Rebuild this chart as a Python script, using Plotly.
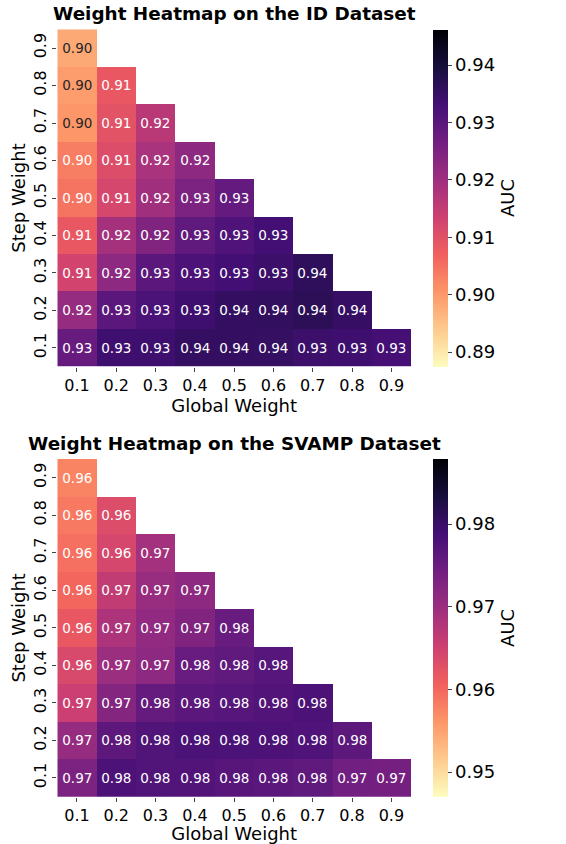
import plotly.graph_objects as go
import plotly.colors as pc

global_weights = ["0.1", "0.2", "0.3", "0.4", "0.5", "0.6", "0.7", "0.8", "0.9"]
step_weights = ["0.9", "0.8", "0.7", "0.6", "0.5", "0.4", "0.3", "0.2", "0.1"]  # top to bottom

N = None
id_auc = [
    [0.8981, N, N, N, N, N, N, N, N],
    [0.8998, 0.9086, N, N, N, N, N, N, N],
    [0.9006, 0.9098, 0.9163, N, N, N, N, N, N],
    [0.9034, 0.9110, 0.9186, 0.9227, N, N, N, N, N],
    [0.9048, 0.9122, 0.9198, 0.9252, 0.9286, N, N, N, N],
    [0.9086, 0.9192, 0.9245, 0.9292, 0.9315, 0.9333, N, N, N],
    [0.9127, 0.9227, 0.9298, 0.9320, 0.9333, 0.9345, 0.9362, N, N],
    [0.9215, 0.9298, 0.9321, 0.9339, 0.9356, 0.9358, 0.9366, 0.9352, N],
    [0.9282, 0.9339, 0.9340, 0.9356, 0.9356, 0.9355, 0.9345, 0.9340, 0.9330],
]
svamp_auc = [
    [0.9576, N, N, N, N, N, N, N, N],
    [0.9585, 0.9634, N, N, N, N, N, N, N],
    [0.9593, 0.9642, 0.9691, N, N, N, N, N, N],
    [0.9601, 0.9662, 0.9703, 0.9715, N, N, N, N, N],
    [0.9617, 0.9683, 0.9711, 0.9728, 0.9752, N, N, N, N],
    [0.9638, 0.9699, 0.9715, 0.9752, 0.9760, 0.9769, N, N, N],
    [0.9654, 0.9724, 0.9756, 0.9764, 0.9769, 0.9773, 0.9779, N, N],
    [0.9707, 0.9762, 0.9775, 0.9781, 0.9781, 0.9780, 0.9776, 0.9763, N],
    [0.9732, 0.9779, 0.9775, 0.9773, 0.9768, 0.9765, 0.9760, 0.9744, 0.9740],
]
id_range = [0.8875, 0.9462]
svamp_range = [0.9470, 0.9879]
id_ticks = [0.89, 0.90, 0.91, 0.92, 0.93, 0.94]
svamp_ticks = [0.95, 0.96, 0.97, 0.98]
titles = ["Weight Heatmap on the ID Dataset", "Weight Heatmap on the SVAMP Dataset"]

W, H = 566, 844
FONT = "DejaVu Sans"
scale = pc.sequential.Magma_r


def px_x(p):
    return p / W


def px_y(p):
    return 1 - p / H


def lin(c):
    return c / 12.92 if c <= 0.03928 else ((c + 0.055) / 1.055) ** 2.4


def luminance(val, rng):
    t = (val - rng[0]) / (rng[1] - rng[0])
    col = pc.sample_colorscale(scale, [min(max(t, 0), 1)], colortype="tuple")[0]
    r, g, b = [lin(c / 255 if c > 1 else c) for c in col]
    return 0.2126 * r + 0.7152 * g + 0.0722 * b


def split(z, rng):
    dark, light = [], []
    for row in z:
        dr, lr = [], []
        for v in row:
            if v is None:
                dr.append(None); lr.append(None)
            elif luminance(v, rng) > 0.408:
                dr.append(v); lr.append(None)
            else:
                dr.append(None); lr.append(v)
        dark.append(dr); light.append(lr)
    return dark, light


panels = [
    dict(z=id_auc, rng=id_range, ticks=id_ticks, title=titles[0], top=29.3, bottom=366.7),
    dict(z=svamp_auc, rng=svamp_range, ticks=svamp_ticks, title=titles[1], top=459.0, bottom=796.7),
]
left, right = 57.3, 411.0

fig = go.Figure()
layout = dict(width=W, height=H, margin=dict(l=0, r=0, t=0, b=0),
              paper_bgcolor="white", plot_bgcolor="white",
              font=dict(family=FONT, color="black"), annotations=[])
for i, p in enumerate(panels):
    sfx = "" if i == 0 else str(i + 1)
    dark, light = split(p["z"], p["rng"])
    for zz, tcol, show in ((light, "white", True), (dark, "#262626", False)):
        fig.add_trace(go.Heatmap(
            z=zz, x=global_weights, y=step_weights,
            xaxis="x" + sfx, yaxis="y" + sfx,
            colorscale=scale, zmin=p["rng"][0], zmax=p["rng"][1],
            texttemplate="%{z:.2f}", textfont=dict(size=13.5, family=FONT, color=tcol),
            hoverongaps=False, showscale=show,
            colorbar=dict(x=px_x(433.3), xanchor="left", xpad=0, ypad=0, thickness=15,
                          lenmode="pixels", len=p["bottom"] - p["top"],
                          y=px_y((p["top"] + p["bottom"]) / 2), yanchor="middle",
                          outlinewidth=0, ticks="outside", ticklen=4,
                          tickvals=p["ticks"], ticktext=[f"{t:.2f}" for t in p["ticks"]],
                          tickfont=dict(size=18, family=FONT),
                          title=dict(text="AUC", side="right", font=dict(size=18, family=FONT))),
        ))
    layout["xaxis" + sfx] = dict(domain=[px_x(left), px_x(right)], anchor="y" + sfx,
                                 type="category", ticks="outside", ticklen=4, automargin=False,
                                 tickfont=dict(size=16), showgrid=False, zeroline=False,
                                 title=dict(text="Global Weight", font=dict(size=18), standoff=4))
    layout["yaxis" + sfx] = dict(domain=[px_y(p["bottom"]), px_y(p["top"])], anchor="x" + sfx,
                                 type="category", autorange="reversed", ticks="outside", ticklen=4,
                                 automargin=False,
                                 tickangle=-90, tickfont=dict(size=16), showgrid=False, zeroline=False,
                                 title=dict(text="Step Weight", font=dict(size=18), standoff=0))
    layout["annotations"].append(dict(
        text="<b>" + p["title"] + "</b>", x=(px_x(left) + px_x(right)) / 2, xref="paper",
        y=px_y(p["top"] - 3), yref="paper", yanchor="bottom", xanchor="center",
        showarrow=False, font=dict(size=18.4, family=FONT)))

fig.update_layout(**layout)
fig.write_html("out.html", config={"displayModeBar": False},
               post_script="document.body.style.margin='0';")
